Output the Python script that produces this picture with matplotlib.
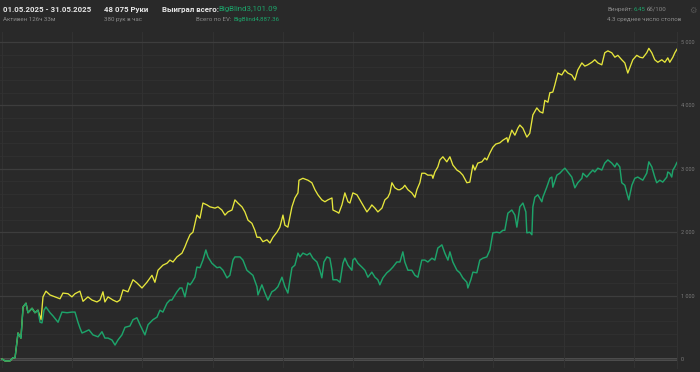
import matplotlib.pyplot as plt
import matplotlib.ticker as ticker

# Данные: руки / выигрыш в BB
hands_ev = [0, 210, 570, 780, 930, 1140, 1280, 1350, 1500, 1710, 1850, 2140, 2350, 2560, 2780, 2920, 3130,
            3420, 3770, 4130, 4340, 4700, 4980, 5200, 5550, 5770, 6120, 6410, 6760, 6980, 7190, 7330, 7550,
            7900, 8190, 8400, 8620, 8970, 9330, 9610, 9970, 10320, 10680, 10890, 11110, 11460, 11750, 11960,
            12180, 12460, 12820, 13030, 13170, 13390, 13600, 13880, 14100, 14310, 14600, 14810, 15170, 15380,
            15660, 15880, 16090, 16380, 16590, 16800, 17090, 17300, 17520, 17800, 18010, 18160, 18370, 18580,
            18870, 19080, 19300, 19580, 19790, 20010, 20150, 20360, 20650, 20860, 21080, 21150, 21430, 21790,
            22070, 22290, 22500, 22780, 23000, 23210, 23500, 23570, 23850, 23990, 24210, 24420, 24640, 24780,
            24990, 25280, 25490, 25700, 25990, 26200, 26340, 26560, 26770, 27060, 27270, 27480, 27630, 27770,
            27980, 28200, 28340, 28550, 28690, 28910, 29190, 29410, 29550, 29760, 29900, 30120, 30330, 30620,
            30690, 30830, 31040, 31190, 31400, 31680, 31900, 32110, 32400, 32610, 32820, 33110, 33320, 33540,
            33680, 33890, 34180, 34390, 34530, 34750, 34960, 35170, 35460, 35670, 35960, 36030, 36310, 36530,
            36740, 36880, 37100, 37380, 37590, 37810, 38090, 38310, 38520, 38660, 38880, 39020, 39230, 39370,
            39590, 39870, 40090, 40300, 40580, 40800, 41010, 41300, 41510, 41720, 42010, 42220, 42440, 42720,
            42930, 43150, 43430, 43650, 43860, 44140, 44360, 44570, 44710, 44930, 45210, 45430, 45640, 45920,
            46070, 46280, 46490, 46710, 46990, 47210, 47420, 47560, 47780, 47920, 48075]
bb_ev = [0, -30, -30, 20, 20, 410, 360, 330, 820, 880, 730, 800, 730, 770, 620, 980, 1070,
         1010, 980, 950, 1040, 1030, 980, 1030, 1070, 910, 980, 930, 900, 930, 1060, 900, 980,
         930, 900, 930, 1090, 1060, 1250, 1200, 1120, 1210, 1320, 1210, 1400, 1480, 1510, 1560,
         1530, 1610, 1670, 1770, 1850, 1960, 2000, 2270, 2220, 2460, 2430, 2400, 2380, 2400,
         2350, 2270, 2320, 2350, 2510, 2460, 2400, 2320, 2190, 2140, 2030, 1920, 1920, 1850,
         1880, 1830, 1920, 2000, 2080, 2270, 2110, 2080, 2400, 2540, 2620, 2820, 2850, 2820,
         2780, 2670, 2590, 2510, 2480, 2510, 2540, 2350, 2320, 2300, 2430, 2620, 2480, 2460,
         2620, 2590, 2510, 2430, 2320, 2380, 2430, 2380, 2320, 2380, 2510, 2550, 2620, 2780,
         2700, 2670, 2670, 2700, 2740, 2670, 2620, 2550, 2670, 2780, 2930, 2930, 2900, 2900,
         2850, 2950, 3030, 3140, 3190, 3110, 3190, 3060, 2980, 2950, 2900, 2780, 2790, 3060,
         2980, 3090, 3110, 3170, 3140, 3250, 3340, 3390, 3410, 3450, 3490, 3420, 3610, 3530,
         3640, 3690, 3640, 3500, 3560, 3850, 3960, 3900, 3880, 4080, 4050, 4200, 4210, 4320,
         4510, 4480, 4560, 4510, 4480, 4400, 4560, 4670, 4620, 4640, 4680, 4720, 4670, 4640,
         4830, 4860, 4830, 4760, 4790, 4720, 4670, 4510, 4590, 4720, 4790, 4760, 4750, 4830,
         4900, 4830, 4720, 4680, 4720, 4680, 4750, 4680, 4760, 4830, 4887]

hands_won = [0, 210, 570, 780, 930, 1140, 1280, 1350, 1500, 1710, 1850, 2140, 2350, 2560, 2710, 2850, 2990,
             3130, 3420, 3630, 3990, 4270, 4630, 4980, 5200, 5410, 5550, 5700, 5910, 6190, 6480, 6840, 7120,
             7330, 7550, 7830, 8050, 8260, 8540, 8760, 9110, 9330, 9610, 9830, 10180, 10400, 10750, 11040,
             11250, 11460, 11750, 11960, 12100, 12460, 12670, 12820, 13030, 13240, 13390, 13530, 13740, 13880,
             14100, 14310, 14520, 14670, 14950, 15310, 15520, 15740, 16020, 16230, 16450, 16590, 16950, 17160,
             17440, 17660, 17870, 18160, 18230, 18510, 18730, 18940, 19220, 19440, 19650, 19940, 20150, 20360,
             20650, 20860, 21080, 21220, 21430, 21720, 21930, 22140, 22430, 22640, 22780, 22930, 23140, 23350,
             23500, 23570, 23850, 24070, 24280, 24420, 24640, 24920, 24990, 25130, 25350, 25630, 25850, 26060,
             26340, 26560, 26770, 26910, 27130, 27410, 27630, 27840, 28120, 28340, 28550, 28690, 28910, 29190,
             29410, 29620, 29900, 30120, 30330, 30620, 30830, 31040, 31330, 31540, 31760, 31900, 32110, 32400,
             32610, 32820, 33110, 33180, 33390, 33540, 33820, 34030, 34250, 34530, 34750, 34960, 35240, 35460,
             35670, 35810, 36030, 36310, 36530, 36670, 36880, 37100, 37310, 37380, 37590, 37740, 37810, 37950,
             38160, 38450, 38520, 38800, 39020, 39160, 39230, 39520, 39730, 39940, 40090, 40300, 40580, 40800,
             41010, 41300, 41370, 41650, 41870, 42080, 42220, 42440, 42720, 42930, 43150, 43430, 43650, 43790,
             44000, 44140, 44360, 44500, 44640, 44860, 45070, 45280, 45430, 45640, 45920, 46070, 46280, 46490,
             46630, 46850, 47060, 47350, 47420, 47560, 47700, 47780, 47920, 48075]
bb_won = [0, -30, -30, 20, 20, 410, 360, 330, 820, 880, 730, 800, 730, 770, 580, 570, 770,
          820, 730, 680, 580, 740, 730, 740, 740, 580, 490, 410, 430, 460, 380, 350, 430,
          330, 330, 300, 220, 300, 380, 500, 520, 620, 650, 540, 380, 540, 620, 660,
          770, 740, 880, 930, 930, 1060, 1120, 1120, 980, 1200, 1170, 1210, 1290, 1450,
          1440, 1560, 1720, 1610, 1510, 1440, 1450, 1400, 1280, 1320, 1560, 1610, 1610, 1560,
          1400, 1360, 1320, 1140, 1010, 1170, 1040, 930, 1060, 1090, 1140, 1290, 1140, 1040,
          1440, 1480, 1670, 1610, 1670, 1640, 1670, 1590, 1530, 1400, 1280, 1530, 1610, 1590,
          1400, 1250, 1250, 1210, 1510, 1590, 1480, 1400, 1560, 1590, 1510, 1450, 1400, 1290,
          1370, 1290, 1250, 1170, 1280, 1360, 1400, 1450, 1530, 1530, 1690, 1530, 1400, 1400,
          1320, 1290, 1560, 1560, 1530, 1590, 1560, 1750, 1800, 1670, 1560, 1690, 1530, 1400,
          1360, 1280, 1210, 1120, 1250, 1370, 1360, 1560, 1590, 1610, 1720, 1990, 2000, 1990,
          2030, 2030, 2300, 2350, 2270, 2080, 2400, 2460, 2320, 1990, 2000, 1960, 2400, 2550,
          2590, 2480, 2550, 2710, 2850, 2870, 2710, 2900, 2930, 2980, 3010, 2950, 2870, 2700,
          2780, 2850, 2930, 2870, 2930, 2980, 2950, 3010, 2980, 3090, 3140, 3090, 3030, 3090,
          3030, 2780, 2740, 2620, 2510, 2740, 2850, 2870, 2850, 2820, 2930, 3110, 3030, 2870,
          2780, 2820, 2790, 2870, 2950, 2930, 2870, 2980, 3030, 3101]

y_ticks = [0, 1000, 2000, 3000, 4000, 5000]

BG = '#292929'
YELLOW = '#e6e63c'
GREEN = '#1da36a'
WHITE = '#e6e6e6'
GREY = '#8a8a8a'

plt.rcParams['font.family'] = ['Roboto', 'DejaVu Sans']

W, H = 700, 372
fig = plt.figure(figsize=(7, 3.72), dpi=100, facecolor=BG)

# область графика в пикселях
left, right, top, bottom = 0, 677, 32, 368
ax = fig.add_axes([left / W, (H - bottom) / H, (right - left) / W, (bottom - top) / H])
ax.set_facecolor(BG)

px_h = 71.22  # рук на пиксель
ax.set_xlim(-2 * px_h, 48075)
bb_per_px = 1000 / 63.4
ax.set_ylim(-(bottom - 359) * bb_per_px, (359 - top) * bb_per_px)

ax.yaxis.set_major_locator(ticker.FixedLocator(y_ticks))
ax.yaxis.set_minor_locator(ticker.MultipleLocator(200))
ax.xaxis.set_major_locator(ticker.MultipleLocator(5000))
ax.grid(True, axis='y', which='major', color='#3d3d3d', linewidth=0.9)
ax.grid(True, axis='y', which='minor', color='#313131', linewidth=0.6)
ax.grid(True, axis='x', which='major', color='#323232', linewidth=0.7)
ax.axhline(0, color='#5c5c5c', linewidth=1.8, zorder=1)

ax.plot(hands_ev, bb_ev, color=YELLOW, linewidth=0.95, zorder=3)
ax.plot(hands_won, bb_won, color=GREEN, linewidth=1.05, zorder=4)

for s in ['top', 'left', 'bottom']:
    ax.spines[s].set_visible(False)
ax.spines['right'].set_color('#333333')
ax.spines['right'].set_linewidth(0.7)

ax.yaxis.tick_right()
ax.tick_params(axis='y', which='both', length=0, pad=3, labelsize=4, labelcolor='#7a7a7a')
ax.tick_params(axis='x', which='both', length=0, labelbottom=False)
ax.yaxis.set_major_formatter(ticker.FuncFormatter(lambda v, p: f'{int(v):,}'.replace(',', ' ')))


def px(x, y):
    return x / W, 1 - y / H


# шапка
big, small = 5.7, 4.4
fig.text(*px(3, 9.5), '01.05.2025 - 31.05.2025', color=WHITE, fontsize=big, fontweight='bold', va='center')
fig.text(*px(3, 19.5), 'Активен 126ч 33м', color=GREY, fontsize=small, va='center')
fig.text(*px(104, 9.5), '48 075 Руки', color=WHITE, fontsize=big, fontweight='bold', va='center')
fig.text(*px(104, 19.5), '380 рук в час', color=GREY, fontsize=small, va='center')
fig.text(*px(162, 9.5), 'Выиграл всего:', color=WHITE, fontsize=big, fontweight='bold', va='center')
fig.text(*px(218, 9.5), 'BigBlind3,101.09', color=GREEN, fontsize=big, va='center')
fig.text(*px(231, 19.5), 'Всего по EV:', color=GREY, fontsize=small, va='center', ha='right')
fig.text(*px(233, 19.5), 'BigBlind4,887.36', color=GREEN, fontsize=small, va='center')

fig.text(*px(607, 9.5), 'Винрейт:', color=GREY, fontsize=small, va='center')
fig.text(*px(634, 9.5), '6.45', color=GREEN, fontsize=small, va='center')
fig.text(*px(647, 9.5), 'бб/100', color=GREY, fontsize=small, va='center')
fig.text(*px(607, 19.5), '4.3 среднее число столов', color=GREY, fontsize=small, va='center')
fig.text(*px(693, 10), '\u2699', color='#555555', fontsize=6, va='center', ha='center',
         family='DejaVu Sans')

fig.savefig('out.png', dpi=100, facecolor=BG)
